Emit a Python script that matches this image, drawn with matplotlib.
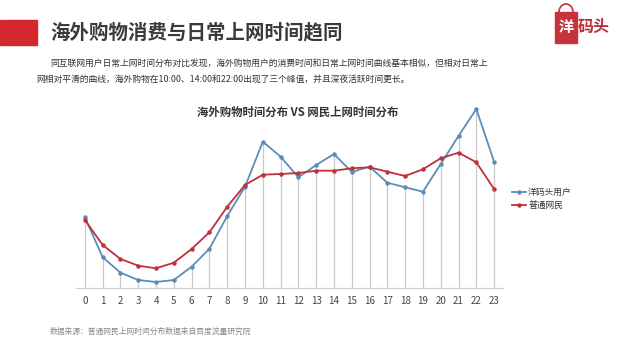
import matplotlib
matplotlib.use("Agg")
import matplotlib.pyplot as plt
from matplotlib.patches import Rectangle, Arc

plt.rcParams['font.family'] = ['Noto Sans CJK SC', 'DejaVu Sans']

hours = list(range(24))
hour_labels = [str(h) for h in hours]
ymt_users = [70.7, 30.7, 15.3, 8, 6, 8, 21.3, 39.3, 72, 101.3, 146.3, 131.3,
             110.7, 123, 134, 116, 121.3, 105.3, 100.7, 96.3, 124, 152, 179, 126.3]
netizens = [68, 43, 29, 22.3, 19.7, 25.3, 39, 55.7, 81.3, 103, 113.3, 114,
            115, 117.3, 117.3, 119.7, 120.7, 116.3, 112, 118.7, 129.7, 135.3, 125.7, 99]
series_names = ['洋码头用户', '普通网民']

W, H = 627, 352
fig = plt.figure(figsize=(W / 100, H / 100), dpi=100)
fig.patch.set_facecolor('white')

def fx(px):
    return px / W

def fy(py):
    return 1 - py / H

# Header bar and title
fig.patches.append(Rectangle((0, fy(45)), fx(37), (45 - 20) / H, transform=fig.transFigure,
                             color='#d4282e', zorder=1))
fig.text(fx(50), fy(33), '海外购物消费与日常上网时间趋同', fontsize=14, fontweight='bold',
         color='#3a3a3a', va='center', ha='left')

# Logo
fig.patches.append(Rectangle((fx(555), fy(43)), fx(22), 31 / H, transform=fig.transFigure,
                             color='#c8323c', zorder=2))
fig.patches.append(Arc((fx(566), fy(12)), fx(14), 16 / H, theta1=0, theta2=180,
                       transform=fig.transFigure, color='#c8323c', lw=1.2))
fig.text(fx(566), fy(27), '洋', fontsize=11, fontweight='bold', color='white',
         ha='center', va='center', zorder=3)
fig.text(fx(578), fy(27), '码头', fontsize=11.5, fontweight='bold', color='#b8303a',
         ha='left', va='center')

# Paragraph
fig.text(fx(50), fy(63), '同互联网用户日常上网时间分布对比发现，海外购物用户的消费时间和日常上网时间曲线基本相似，但相对日常上',
         fontsize=6.35, color='#333333', va='center', ha='left')
fig.text(fx(36), fy(79), '网相对平滑的曲线，海外购物在10:00、14:00和22:00出现了三个峰值，并且深夜活跃时间更长。',
         fontsize=6.35, color='#333333', va='center', ha='left')

# Chart title
fig.text(fx(298), fy(112), '海外购物时间分布 VS 网民上网时间分布', fontsize=8.2, fontweight='bold',
         color='#333333', ha='center', va='center')

# Axes
ax = fig.add_axes([fx(76), fy(288), fx(503 - 76), (288 - 100) / H])
ax.set_xlim(-0.5, 23.5)
ax.set_ylim(0, 188)

blue = '#5b8db8'
red = '#c0303a'
ax.vlines(hours, 0, ymt_users, colors='#c8c8c8', lw=0.9, zorder=1)
ax.plot(hours, ymt_users, color=blue, lw=1.3, marker='o', ms=2.2, label=series_names[0], zorder=3)
ax.plot(hours, netizens, color=red, lw=1.3, marker='o', ms=2.2, label=series_names[1], zorder=4)

ax.set_xticks(hours)
ax.set_xticklabels(hour_labels, fontsize=7, color='#444444')
ax.tick_params(axis='x', length=0, pad=6)
ax.set_yticks([])
for s in ['top', 'right', 'left']:
    ax.spines[s].set_visible(False)
ax.spines['bottom'].set_color('#d0d0d0')
ax.spines['bottom'].set_linewidth(0.9)
ax.patch.set_alpha(0)

leg = ax.legend(loc='center left', bbox_to_anchor=((508 - 76) / (503 - 76), (288 - 199) / 188),
                frameon=False, fontsize=6.3, handlelength=1.6, handletextpad=0.3,
                labelspacing=0.5, borderaxespad=0)
for t in leg.get_texts():
    t.set_color('#333333')

# Source note
fig.text(fx(50), fy(332), '数据来源：普通网民上网时间分布数据来自百度流量研究院', fontsize=5.6,
         color='#888888', style='italic', ha='left', va='center')

fig.savefig('out.png', dpi=100, facecolor='white')
